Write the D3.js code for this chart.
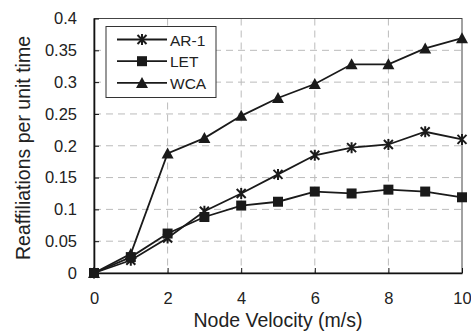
<!DOCTYPE html>
<html>
<head>
<meta charset="utf-8">
<script src="https://cdn.jsdelivr.net/npm/d3@7"></script>
<style>
  body { margin: 0; background: #fff; }
  text { font-family: "Liberation Sans", Arial, sans-serif; fill: #222; }
</style>
</head>
<body>
<svg width="471" height="334"></svg>
<script>
// data
var velocity = [0, 1, 2, 3, 4, 5, 6, 7, 8, 9, 10];
var ar1 = [0, 0.02, 0.055, 0.097, 0.125, 0.155, 0.185, 0.197, 0.202, 0.222, 0.21];
var let_ = [0, 0.025, 0.062, 0.088, 0.106, 0.112, 0.128, 0.125, 0.131, 0.128, 0.119];
var wca = [0, 0.03, 0.188, 0.212, 0.247, 0.275, 0.297, 0.328, 0.328, 0.353, 0.369];
var xTicks = [0, 2, 4, 6, 8, 10];
var yTicks = [0, 0.05, 0.1, 0.15, 0.2, 0.25, 0.3, 0.35, 0.4];

var series = [
    { name: "AR-1", values: ar1, marker: "star" },
    { name: "LET", values: let_, marker: "square" },
    { name: "WCA", values: wca, marker: "triangle" }
];

var svg = d3.select("svg"),
    margin = { top: 18.5, right: 9, bottom: 61, left: 94 },
    width = +svg.attr("width") - margin.left - margin.right,
    height = +svg.attr("height") - margin.top - margin.bottom,
    g = svg.append("g").attr("transform", "translate(" + margin.left + "," + margin.top + ")");

var x = d3.scaleLinear().domain([0, 10]).range([0, width]);
var y = d3.scaleLinear().domain([0, 0.4]).range([height, 0]);

// grid
g.append("g").selectAll("line")
    .data(yTicks.slice(1, -1))
    .enter().append("line")
    .attr("x1", 0).attr("x2", width)
    .attr("y1", function (d) { return y(d); })
    .attr("y2", function (d) { return y(d); })
    .attr("stroke", "#bbb").attr("stroke-dasharray", "7,5");

g.append("g").selectAll("line")
    .data(xTicks.slice(1, -1))
    .enter().append("line")
    .attr("y1", 0).attr("y2", height)
    .attr("x1", function (d) { return x(d); })
    .attr("x2", function (d) { return x(d); })
    .attr("stroke", "#bbb").attr("stroke-dasharray", "7,5");

// frame
g.append("rect")
    .attr("width", width).attr("height", height)
    .attr("fill", "none").attr("stroke", "#444").attr("stroke-width", 1);

// axes
var xAxis = g.append("g")
    .attr("transform", "translate(0," + height + ")")
    .call(d3.axisBottom(x).tickValues(xTicks).tickSizeInner(-5).tickSizeOuter(0).tickPadding(19));
var yAxis = g.append("g")
    .call(d3.axisLeft(y).tickValues(yTicks).tickSizeInner(-5).tickSizeOuter(0).tickPadding(17)
        .tickFormat(function (d) { return d3.format("")(+d.toFixed(2)); }));

[xAxis, yAxis].forEach(function (a) {
    a.select(".domain").attr("stroke", "#111").attr("stroke-width", 1.6);
    a.selectAll(".tick line").attr("stroke", "#111");
    a.selectAll(".tick text").attr("font-size", 16.5).style("fill", "#222")
        .attr("font-family", "Liberation Sans, Arial, sans-serif");
});

// axis titles
svg.append("text")
    .attr("x", margin.left + width / 2)
    .attr("y", 327)
    .attr("text-anchor", "middle")
    .attr("font-size", 19.5)
    .text("Node Velocity (m/s)");

svg.append("text")
    .attr("transform", "translate(30," + 148 + ") rotate(-90)")
    .attr("text-anchor", "middle")
    .attr("font-size", 19.5)
    .text("Reaffiliations per unit time");

// markers
function drawMarker(sel, type) {
    if (type == "square") {
        sel.append("rect").attr("x", -5).attr("y", -5).attr("width", 10).attr("height", 10)
            .attr("fill", "#1a1a1a");
    } else if (type == "triangle") {
        sel.append("path").attr("d", "M0,-6L6,5L-6,5Z").attr("fill", "#1a1a1a");
    } else {
        sel.append("path").attr("d", "M-4.5,-4.5L4.5,4.5M-4.5,4.5L4.5,-4.5M0,-5.5L0,5.5")
            .attr("stroke", "#1a1a1a").attr("stroke-width", 2).attr("fill", "none");
    }
}

var line = d3.line()
    .x(function (d, i) { return x(velocity[i]); })
    .y(function (d) { return y(d); });

series.forEach(function (s) {
    g.append("path")
        .datum(s.values)
        .attr("d", line)
        .attr("fill", "none")
        .attr("stroke", "#1a1a1a")
        .attr("stroke-width", 1.8);
    g.append("g").selectAll("g")
        .data(s.values)
        .enter().append("g")
        .attr("transform", function (d, i) { return "translate(" + x(velocity[i]) + "," + y(d) + ")"; })
        .each(function () { drawMarker(d3.select(this), s.marker); });
});

// legend
var legend = svg.append("g").attr("transform", "translate(106,26.5)");
legend.append("rect")
    .attr("width", 110).attr("height", 71)
    .attr("fill", "#fff").attr("stroke", "#333").attr("stroke-width", 1);

var item = legend.selectAll(".item")
    .data(series)
    .enter().append("g")
    .attr("class", "item")
    .attr("transform", function (d, i) { return "translate(0," + (13 + i * 21.7) + ")"; });

item.append("line")
    .attr("x1", 11).attr("x2", 61)
    .attr("stroke", "#1a1a1a").attr("stroke-width", 1.8);
item.append("g")
    .attr("transform", "translate(36,0)")
    .each(function (d) { drawMarker(d3.select(this), d.marker); });
item.append("text")
    .attr("x", 64).attr("y", 6)
    .attr("font-size", 15.5)
    .text(function (d) { return d.name; });
</script>
</body>
</html>
